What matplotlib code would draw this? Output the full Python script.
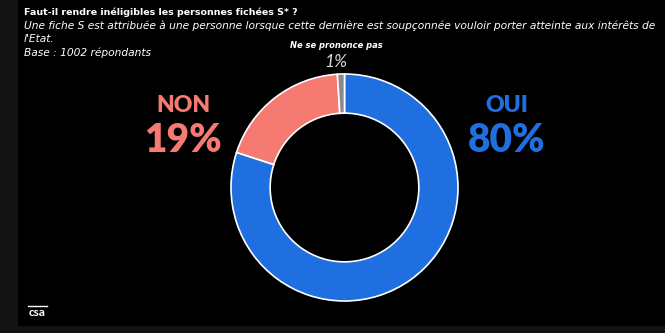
import matplotlib
matplotlib.use("Agg")
import matplotlib.pyplot as plt
from matplotlib.patches import Rectangle

labels = ["OUI", "NON", "Ne se prononce pas"]
values = [80, 19, 1]
colors = ["#1f6fe0", "#f57a72", "#8a8a8a"]

title = "Faut-il rendre inéligibles les personnes fichées S* ?"
subtitle1 = "Une fiche S est attribuée à une personne lorsque cette dernière est soupçonnée vouloir porter atteinte aux intérêts de"
subtitle2 = "l'Etat."
base = "Base : 1002 répondants"

W, H = 665, 333
fig = plt.figure(figsize=(W / 100, H / 100), dpi=100)
fig.patch.set_facecolor("#131313")
fig.patches.append(Rectangle((18 / W, (H - 326) / H), (W - 18) / W, 326 / H,
                             transform=fig.transFigure, facecolor="black",
                             edgecolor="none", zorder=-5))

FONT = "Lato"
SMALL = "DejaVu Sans"
cx, cy, r = 344.5, 187.5, 113.5
ax = fig.add_axes([(cx - r) / W, (H - cy - r) / H, 2 * r / W, 2 * r / H])
ax.set_zorder(2)
ax.pie(values, colors=colors, startangle=90, counterclock=False, radius=1,
       wedgeprops=dict(width=0.345, edgecolor="white", linewidth=1.2))
ax.set_xlim(-1, 1)
ax.set_ylim(-1, 1)
ax.set_aspect("equal")
ax.axis("off")

def px(x, y):
    return x / W, 1 - y / H

fig.text(*px(24, 12), title, color="white", fontsize=6.8, fontweight="bold",
         family=SMALL, va="center", ha="left")
fig.text(*px(24, 26), subtitle1, color="white", fontsize=7.65, style="italic",
         family=SMALL, va="center", ha="left")
fig.text(*px(24, 38.5), subtitle2, color="white", fontsize=7.65, style="italic",
         family=SMALL, va="center", ha="left")
fig.text(*px(24, 52.5), base, color="white", fontsize=7.65, style="italic",
         family=SMALL, va="center", ha="left")

fig.text(*px(336, 45), labels[2], color="white", fontsize=6.0, fontweight="bold",
         style="italic", family=SMALL, va="center", ha="center")
fig.text(*px(336, 62), f"{values[2]}%", color="#d9d9d9", fontsize=12.5,
         style="italic", family=FONT, va="center", ha="center")

fig.text(*px(183, 105), labels[1], color=colors[1], fontsize=16.5, fontweight="heavy",
         family=FONT, va="center", ha="center")
fig.text(*px(183, 141), f"{values[1]}%", color=colors[1], fontsize=28, fontweight="heavy",
         family=FONT, va="center", ha="center")
fig.text(*px(507, 105), labels[0], color=colors[0], fontsize=16.5, fontweight="heavy",
         family=FONT, va="center", ha="center")
fig.text(*px(507, 141), f"{values[0]}%", color=colors[0], fontsize=28, fontweight="heavy",
         family=FONT, va="center", ha="center")

# logo
fig.text(*px(37, 313), "csa", color="white", fontsize=8.5, fontweight="bold",
         family=FONT, va="center", ha="center")
fig.lines.append(plt.Line2D([28 / W, 47 / W], [1 - 306 / H, 1 - 306 / H],
                            transform=fig.transFigure, color="white", linewidth=1))

fig.savefig("out.png", dpi=100, facecolor=fig.get_facecolor())
